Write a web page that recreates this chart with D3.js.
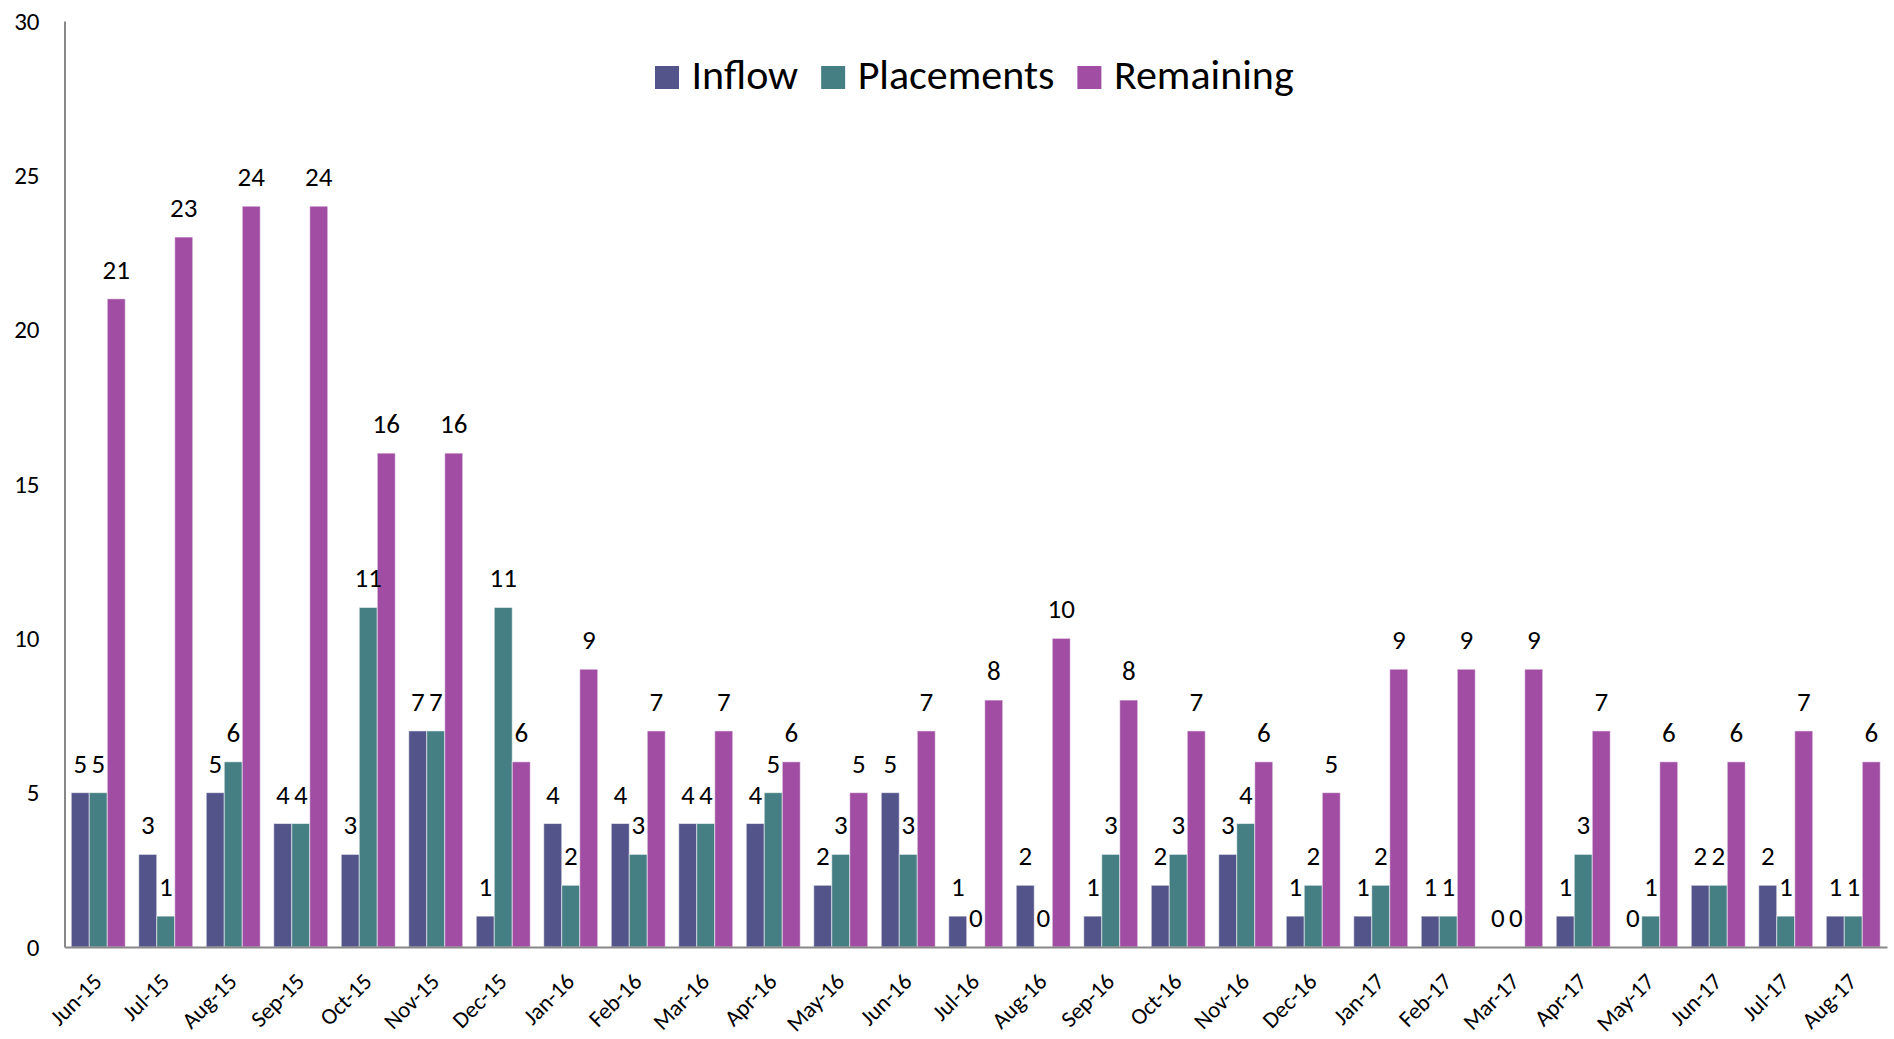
<!DOCTYPE html>
<html>
<head>
<meta charset="utf-8">
<script src="https://cdn.jsdelivr.net/npm/d3@7/dist/d3.min.js"></script>
<style>
  html, body { margin: 0; padding: 0; background: #fff; }
  svg text { font-family: Carlito, Calibri, Lato, sans-serif; fill: #000; }
</style>
</head>
<body>
<svg id="chart" width="1894" height="1039"></svg>
<script>
// Monthly inflow, placements and remaining counts
const months = ["Jun-15","Jul-15","Aug-15","Sep-15","Oct-15","Nov-15","Dec-15","Jan-16","Feb-16","Mar-16",
  "Apr-16","May-16","Jun-16","Jul-16","Aug-16","Sep-16","Oct-16","Nov-16","Dec-16","Jan-17",
  "Feb-17","Mar-17","Apr-17","May-17","Jun-17","Jul-17","Aug-17"];
const inflow     = [5,3,5,4,3,7,1,4,4,4,4,2,5,1,2,1,2,3,1,1,1,0,1,0,2,2,1];
const placements = [5,1,6,4,11,7,11,2,3,4,5,3,3,0,0,3,3,4,2,2,1,0,3,1,2,1,1];
const remaining  = [21,23,24,24,16,16,6,9,7,7,6,5,7,8,10,8,7,6,5,9,9,9,7,6,6,7,6];
const seriesNames = ["Inflow","Placements","Remaining"];
const seriesColors = ["#53548A","#457F83","#A04DA3"];
const yTicks = [0,5,10,15,20,25,30];

const series = [inflow, placements, remaining];
const svg = d3.select("#chart");

const plotLeft = 64.5, plotRight = 1887, plotTop = 21, plotBottom = 947;

const x = d3.scaleBand().domain(months).range([plotLeft, plotRight]).paddingInner(0.2).paddingOuter(0.1);
const xs = d3.scaleBand().domain(seriesNames).range([0, x.bandwidth()]);
const y = d3.scaleLinear().domain([0, 30]).range([plotBottom, plotTop]);

// bars
const groups = svg.append("g").selectAll("g")
  .data(months)
  .join("g")
  .attr("transform", d => `translate(${x(d)},0)`);

const cells = (m, i) => seriesNames.map((s, k) => ({ s, k, v: series[k][i] }));

groups.selectAll("rect")
  .data(cells)
  .join("rect")
  .attr("x", d => xs(d.s))
  .attr("y", d => y(d.v))
  .attr("width", xs.bandwidth())
  .attr("height", d => y(0) - y(d.v))
  .attr("fill", d => seriesColors[d.k])
  .attr("stroke", "rgba(255,255,255,0.55)")
  .attr("stroke-width", 1);

// value labels
groups.selectAll("text.val")
  .data(cells)
  .join("text")
  .attr("class", "val")
  .attr("x", d => xs(d.s) + xs.bandwidth() / 2)
  .attr("y", d => y(d.v) - 20)
  .attr("text-anchor", "middle")
  .style("font-size", "27px")
  .text(d => d.v);

// axes
const yAxis = svg.append("g")
  .attr("transform", `translate(${plotLeft},0)`)
  .call(d3.axisLeft(y).tickValues(yTicks).tickSize(0).tickPadding(25));
yAxis.select(".domain").attr("stroke", "#888").attr("stroke-width", 2);
yAxis.selectAll("text").style("font-size", "25px").style("font-family", "Carlito, Calibri, Lato, sans-serif");

const xAxis = svg.append("g")
  .attr("transform", `translate(0,${plotBottom})`)
  .call(d3.axisBottom(x).tickSize(0).tickPadding(0));
xAxis.select(".domain").attr("stroke", "#888").attr("stroke-width", 2);
xAxis.selectAll("text")
  .style("font-size", "23px")
  .style("font-family", "Carlito, Calibri, Lato, sans-serif")
  .attr("text-anchor", "end")
  .attr("dy", null)
  .attr("y", 0)
  .attr("transform", "translate(5,36) rotate(-45)");

// legend
const legend = svg.append("g").attr("transform", "translate(0,89)");
let lx = 655;
seriesNames.forEach((name, k) => {
  legend.append("rect").attr("x", lx).attr("y", -23).attr("width", 24).attr("height", 23)
    .attr("fill", seriesColors[k]);
  const t = legend.append("text").attr("x", lx + 36.5).attr("y", 0)
    .style("font-size", "42px").text(name);
  lx += 36.5 + t.node().getComputedTextLength() + 23;
});
</script>
</body>
</html>
